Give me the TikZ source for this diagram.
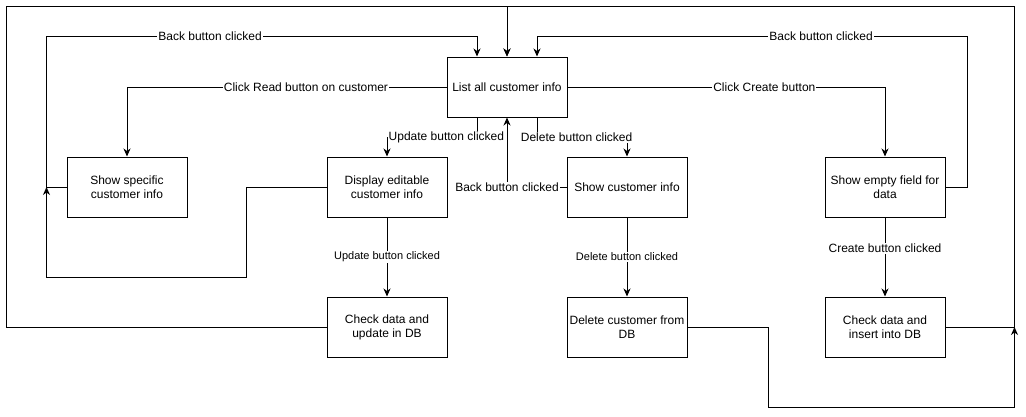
\documentclass[tikz,border=0pt]{standalone}
\usepackage{fontspec}
\setmainfont{Liberation Sans}
\usetikzlibrary{arrows.meta}
\tikzset{
  state/.style = {draw, line width=1pt, minimum width=120pt, minimum height=60pt,
                  inner sep=0pt, align=center, font=\fontsize{12}{14}\selectfont},
  flow/.style = {draw, line width=1pt, -{Stealth[length=8pt,width=7pt,inset=2.5pt]}},
  lbl/.style = {fill=white, inner sep=1pt, font=\fontsize{12}{14}\selectfont},
  slbl/.style = {fill=white, inner sep=1pt, font=\fontsize{11}{13}\selectfont}
}
\begin{document}
\begin{tikzpicture}[x=1pt, y=-1pt]
	\useasboundingbox (0,0) rectangle (1026,416);
	
	% States
	\node[state] (list)      at (507,87)  {List all customer info};
	\node[state] (showspec)  at (127,187) {Show specific\\customer info};
	\node[state] (dispedit)  at (387,187) {Display editable\\customer info};
	\node[state] (showcust)  at (627,187) {Show customer info};
	\node[state] (showempty) at (885,187) {Show empty field for\\data};
	\node[state] (chkupd)    at (387,327) {Check data and\\update in DB};
	\node[state] (delcust)   at (627,327) {Delete customer from\\DB};
	\node[state] (chkins)    at (885,327) {Check data and\\insert into DB};
	
	% Joints on other lines
	\coordinate (j1) at ([xshift=-20pt]showspec.west);
	\coordinate (j2) at ([xshift=69pt]chkins.east);
	
	% From list
	\draw[flow] (list.west) -| node[lbl, pos=0.22] {Click Read button on customer} (showspec.north);
	\draw[flow] (list.east) -| node[lbl, pos=0.31] {Click Create button} (showempty.north);
	\draw[flow] ([xshift=-30pt]list.south) -- ++(0,20) -| node[lbl, pos=0.17] {Update button clicked} (dispedit.north);
	\draw[flow] ([xshift=30pt]list.south) -- ++(0,20) -| node[lbl, pos=0.22] {Delete button clicked} (showcust.north);
	
	% Back to list
	\draw[flow] (showcust.west) -| node[lbl, pos=0.5] {Back button clicked} (list.south);
	\draw[flow] (showspec.west) -- (j1) |- node[lbl, pos=0.69] {Back button clicked} ([xshift=-30pt,yshift=20pt]list.north) -- ([xshift=-30pt]list.north);
	\draw[flow] (showempty.east) -- ++(22,0) |- node[lbl, pos=0.67] {Back button clicked} ([xshift=30pt,yshift=20pt]list.north) -- ([xshift=30pt]list.north);
	\draw[flow] (dispedit.west) -- ++(-80,0) -- ++(0,90) -| (j1);
	
	% Middle row to bottom row
	\draw[flow] (dispedit) -- node[slbl] {Update button clicked} (chkupd);
	\draw[flow] (showcust) -- node[slbl] {Delete button clicked} (delcust);
	\draw[flow] (showempty) -- node[lbl, pos=0.39] {Create button clicked} (chkins);
	
	% Bottom row back to list
	\draw[flow] (chkupd.west) -- ++(-320,0) |- ([yshift=50pt]list.north) -- (list.north);
	\draw[flow] (chkins.east) -- (j2) |- ([yshift=50pt]list.north) -- (list.north);
	\draw[flow] (delcust.east) -- ++(81,0) -- ++(0,80) -| (j2);
	
\end{tikzpicture}
\end{document}
